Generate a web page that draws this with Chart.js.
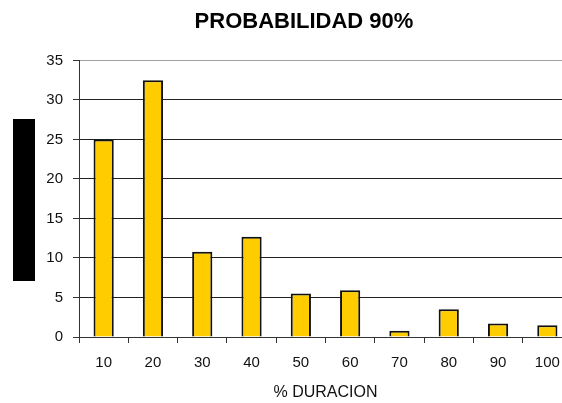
<!DOCTYPE html>
<html>
<head>
<meta charset="utf-8">
<script src="https://cdn.jsdelivr.net/npm/chart.js@4"></script>
<style>
  html, body { margin: 0; padding: 0; background: #fff; overflow: hidden; }
  #wrap { width: 580px; height: 403px; }
</style>
</head>
<body>
<div id="wrap"><canvas id="myChart" width="580" height="403"></canvas></div>
<script>

// % de duracion vs frecuencia
const categorias = ['10', '20', '30', '40', '50', '60', '70', '80', '90', '100'];
const valores = [25, 32.5, 10.8, 12.7, 5.5, 5.9, 0.8, 3.5, 1.7, 1.5];
const ticksY = [0, 5, 10, 15, 20, 25, 30, 35];

const titulo = 'PROBABILIDAD 90%';
const tituloX = '% DURACION';

// barra negra a la izquierda del eje
const bloqueIzq = {
    id: 'bloqueIzq',
    afterDraw(chart) {
        const ctx = chart.ctx;
        ctx.save();
        ctx.fillStyle = '#000';
        ctx.fillRect(13, 119, 22, 162);
        ctx.restore();
    }
};

const graph01 = document.getElementById('myChart').getContext('2d');

const myChart = new Chart(graph01, {
    type: 'bar',
    data: {
        labels: categorias,
        datasets: [{
            data: valores,
            backgroundColor: '#FFCC00',
            borderColor: '#111',
            borderWidth: 2,
            barPercentage: 0.41,
            categoryPercentage: 1,
        }]
    },
    options: {
        responsive: false,
        animation: false,
        layout: {
            padding: { left: 36, right: 8, top: 0, bottom: 0 }
        },
        plugins: {
            legend: { display: false },
            tooltip: { enabled: false },
            title: {
                display: true,
                text: titulo,
                color: '#000',
                font: { family: 'Liberation Sans', size: 22, weight: 'bold' },
                padding: { top: 9, bottom: 25 }
            }
        },
        scales: {
            x: {
                grid: {
                    offset: true,
                    drawOnChartArea: false,
                    tickLength: 6,
                    color: '#333',
                },
                border: { color: '#333', width: 1 },
                ticks: {
                    color: '#111',
                    padding: 11,
                    font: { family: 'Liberation Sans', size: 15 }
                },
                title: {
                    display: true,
                    text: tituloX,
                    color: '#111',
                    font: { family: 'Liberation Sans', size: 16 },
                    padding: { top: 0, bottom: 1 }
                },
                afterFit: (scale) => { scale.height = 66; }
            },
            y: {
                min: 0,
                max: 35,
                afterBuildTicks: (scale) => {
                    scale.ticks = ticksY.map(v => ({ value: v }));
                },
                grid: {
                    tickLength: 6,
                    color: (ctx) => ctx.tick && ctx.tick.value === 35 ? '#a0a0a0' : '#222',
                    tickColor: '#333',
                },
                border: { color: '#333', width: 1 },
                ticks: {
                    color: '#111',
                    padding: 10,
                    font: { family: 'Liberation Sans', size: 15 }
                },
                afterFit: (scale) => { scale.width = 43; }
            }
        }
    },
    plugins: [bloqueIzq]
});

</script>
</body>
</html>
